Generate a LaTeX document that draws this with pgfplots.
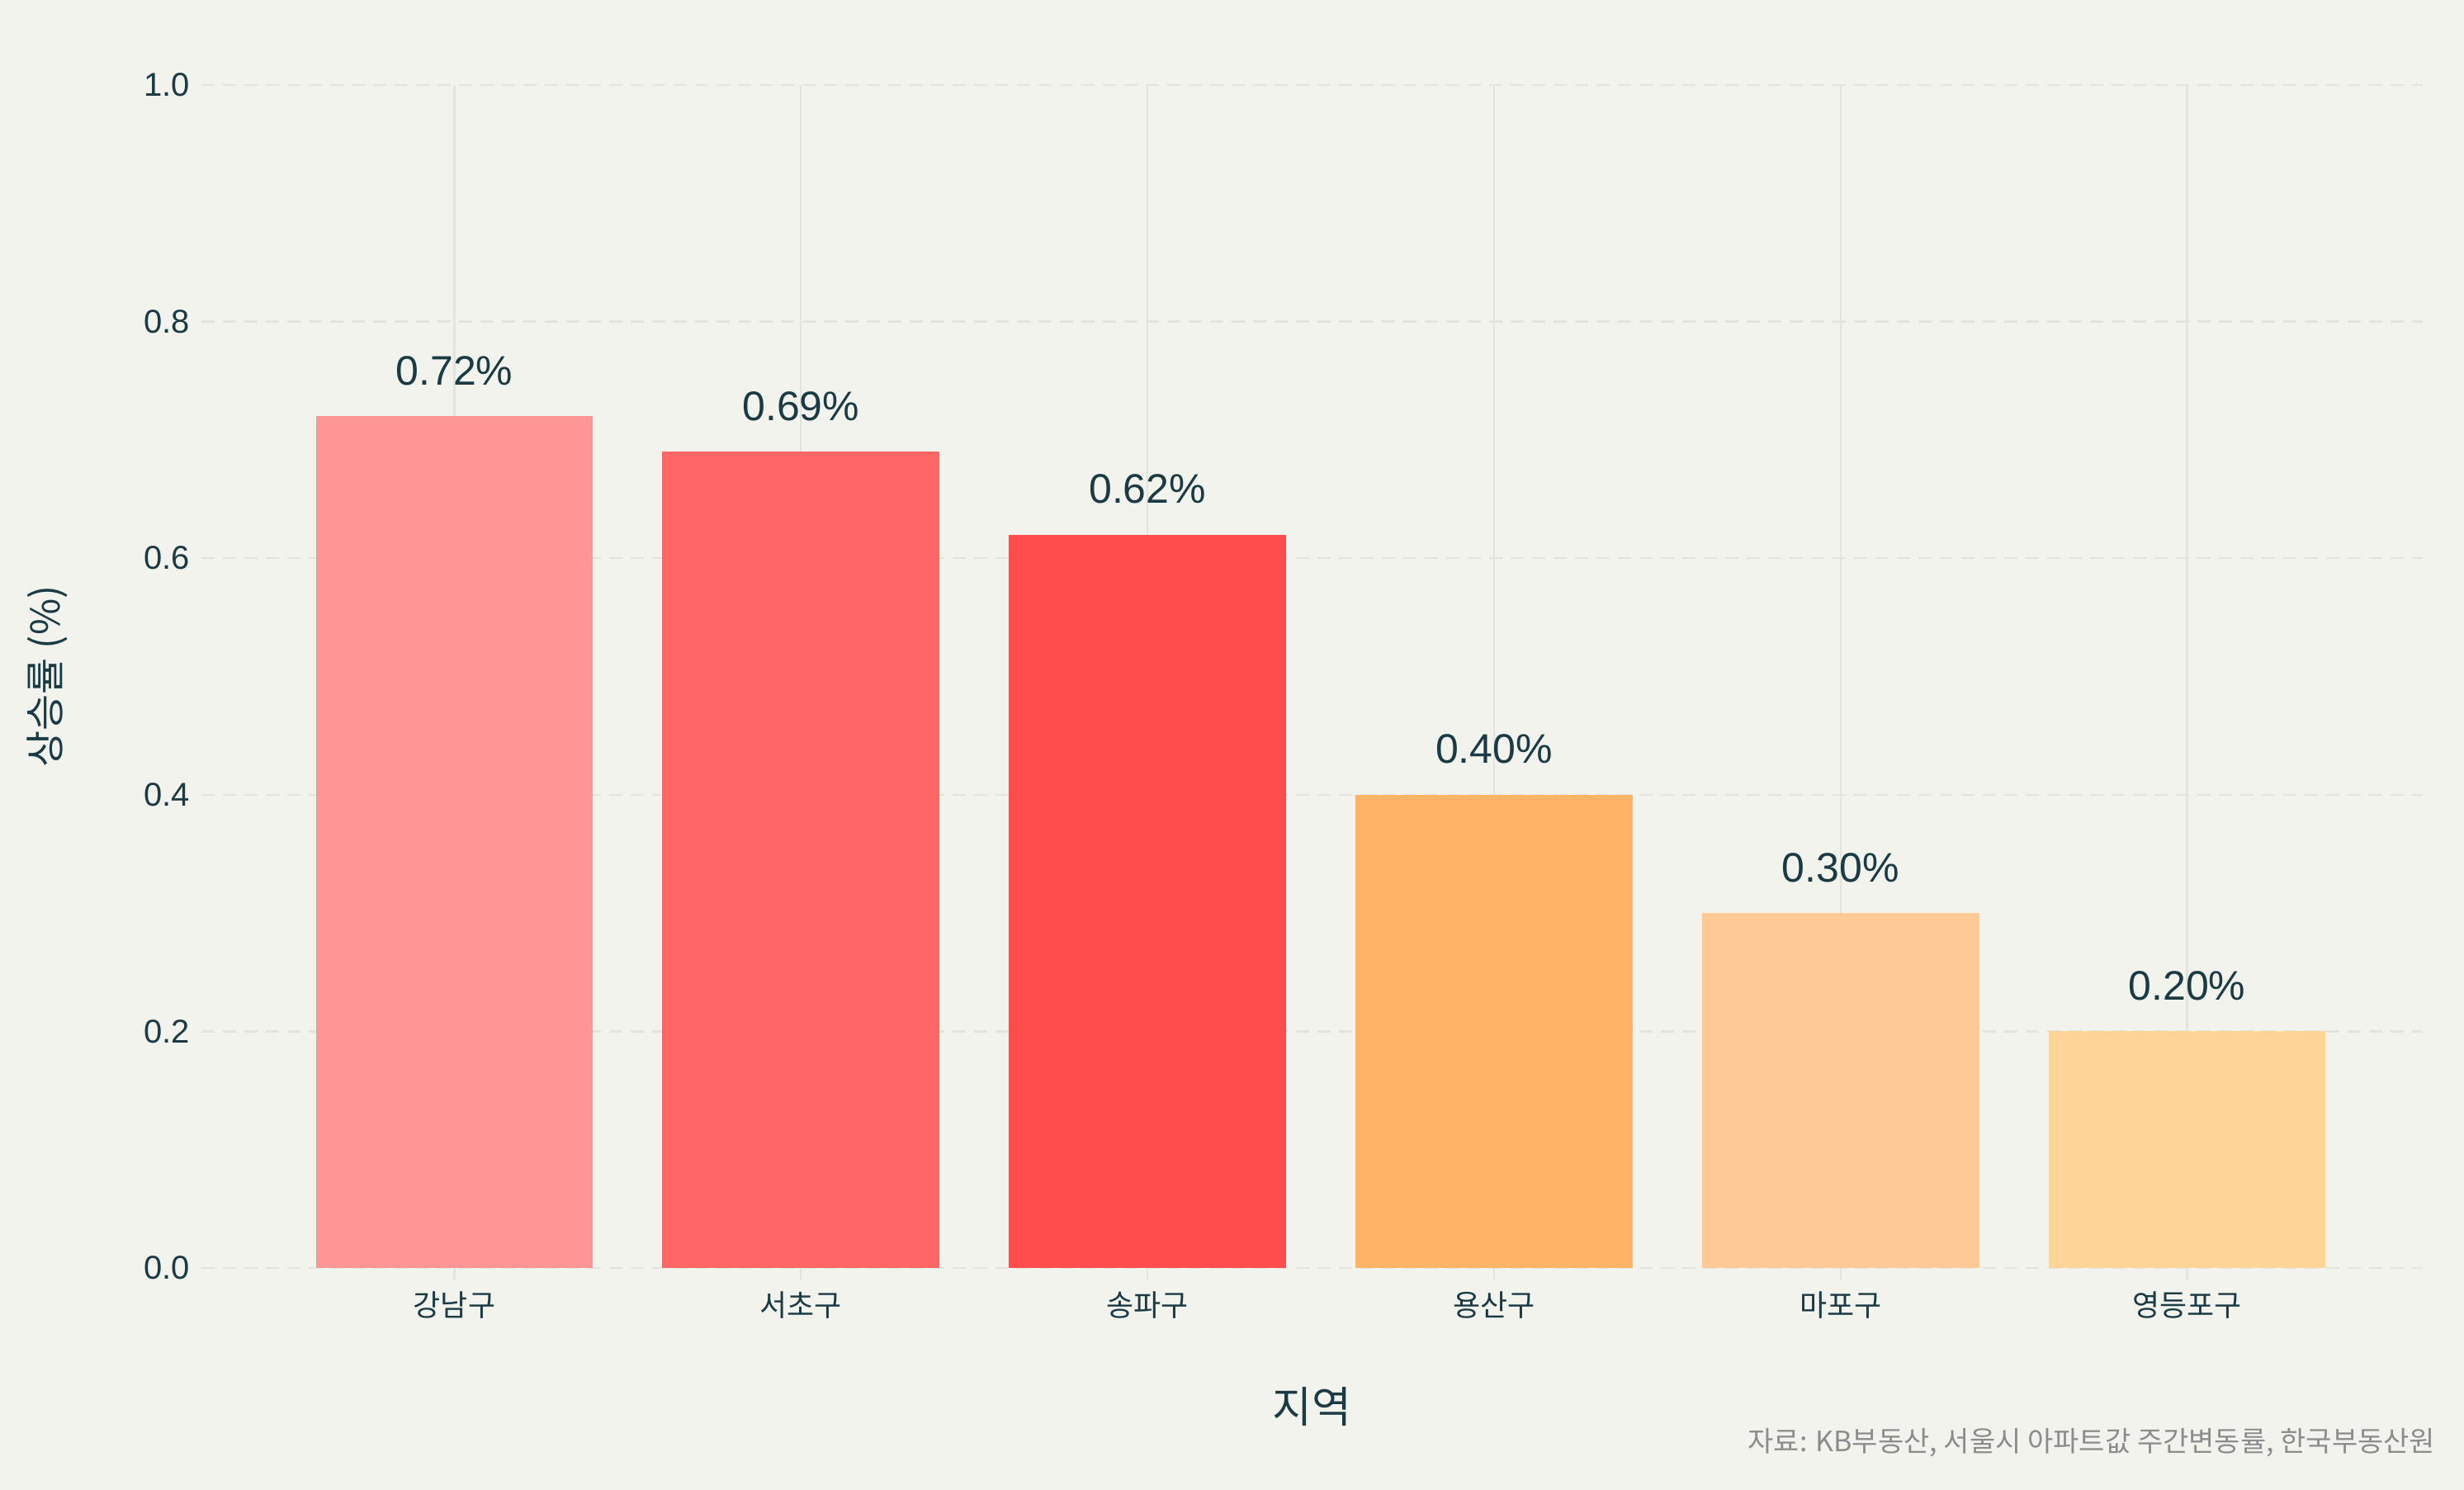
\documentclass[border=0pt]{standalone}
\usepackage{fontspec}
\setmainfont{Liberation Sans}
\newfontfamily\kr{Noto Sans CJK KR}
\usepackage{pgfplots}
\pgfplotsset{compat=1.18}
\definecolor{bg}{HTML}{F3F3EE}
\definecolor{txt}{HTML}{1A3A44}
\definecolor{gridc}{HTML}{E4E4DE}
\definecolor{c1}{HTML}{FF9696}
\definecolor{c2}{HTML}{FF6666}
\definecolor{c3}{HTML}{FF4C4C}
\definecolor{c4}{HTML}{FFB366}
\definecolor{c5}{HTML}{FFC996}
\definecolor{c6}{HTML}{FFD597}
\begin{document}
\begin{tikzpicture}
\fill[bg] (-61pt,-67.25pt) rectangle (685.25pt,384pt);
\path[use as bounding box] (-61pt,-67.25pt) rectangle (685.25pt,384pt);
\begin{axis}[
  at={(0,0)}, anchor=south west,
  scale only axis, width=672.75pt, height=358.25pt,
  xmin=-0.73, xmax=5.68, ymin=0, ymax=1,
  ytick={0,0.2,0.4,0.6,0.8,1.0},
  yticklabel={\pgfmathprintnumber[fixed,precision=1,zerofill]{\tick}},
  /pgf/number format/assume math mode=true,
  xtick={0,1,2,3,4,5},
  xticklabels={강남구,서초구,송파구,용산구,마포구,영등포구},
  xtick pos=bottom, ytick pos=left,
  xticklabel style={font=\kr\fontsize{9}{10}\selectfont, text=txt},
  yticklabel style={font=\fontsize{10}{12}\selectfont, text=txt, xshift=3.75pt},
  axis line style={draw=none},
  tick align=outside,
  major tick length=3.75pt,
  xtick style={draw=gridc, line width=0.6pt},
  ytick style={draw=none},
  ymajorgrids, xmajorgrids,
  y grid style={draw=gridc, dashed, line width=0.6pt, dash pattern=on 4pt off 2.5pt},
  x grid style={draw=gridc, line width=0.6pt},
  ybar, bar width=0.8, bar shift=0pt,
  clip=false,
  nodes near coords={\pgfmathprintnumber[fixed,precision=2,zerofill]{\pgfplotspointmeta}\%},
  nodes near coords style={anchor=base, inner sep=0pt, yshift=9.5pt, font=\fontsize{12.5}{14}\selectfont, text=txt},
  ylabel={\kr 상승률 (\%)},
  ylabel style={at={(axis description cs:0,0.5)}, anchor=center, yshift=46.75pt, font=\fontsize{12}{14}\selectfont, text=txt},
  xlabel={\kr 지역},
  xlabel style={at={(axis description cs:0.5,0)}, anchor=center, yshift=-42pt, font=\fontsize{13}{15}\selectfont, text=txt},
]
\addplot[fill=c1, draw=none] coordinates {(0,0.72)};
\addplot[fill=c2, draw=none] coordinates {(1,0.69)};
\addplot[fill=c3, draw=none] coordinates {(2,0.62)};
\addplot[fill=c4, draw=none] coordinates {(3,0.40)};
\addplot[fill=c5, draw=none] coordinates {(4,0.30)};
\addplot[fill=c6, draw=none] coordinates {(5,0.20)};
\node[anchor=east, inner sep=0pt, text=gray!90, font=\kr\fontsize{8.5}{10}\selectfont] at (rel axis cs:1,0) [xshift=4pt, yshift=-53pt] {자료: KB부동산, 서울시 아파트값 주간변동률, 한국부동산원};
\end{axis}
\end{tikzpicture}
\end{document}
